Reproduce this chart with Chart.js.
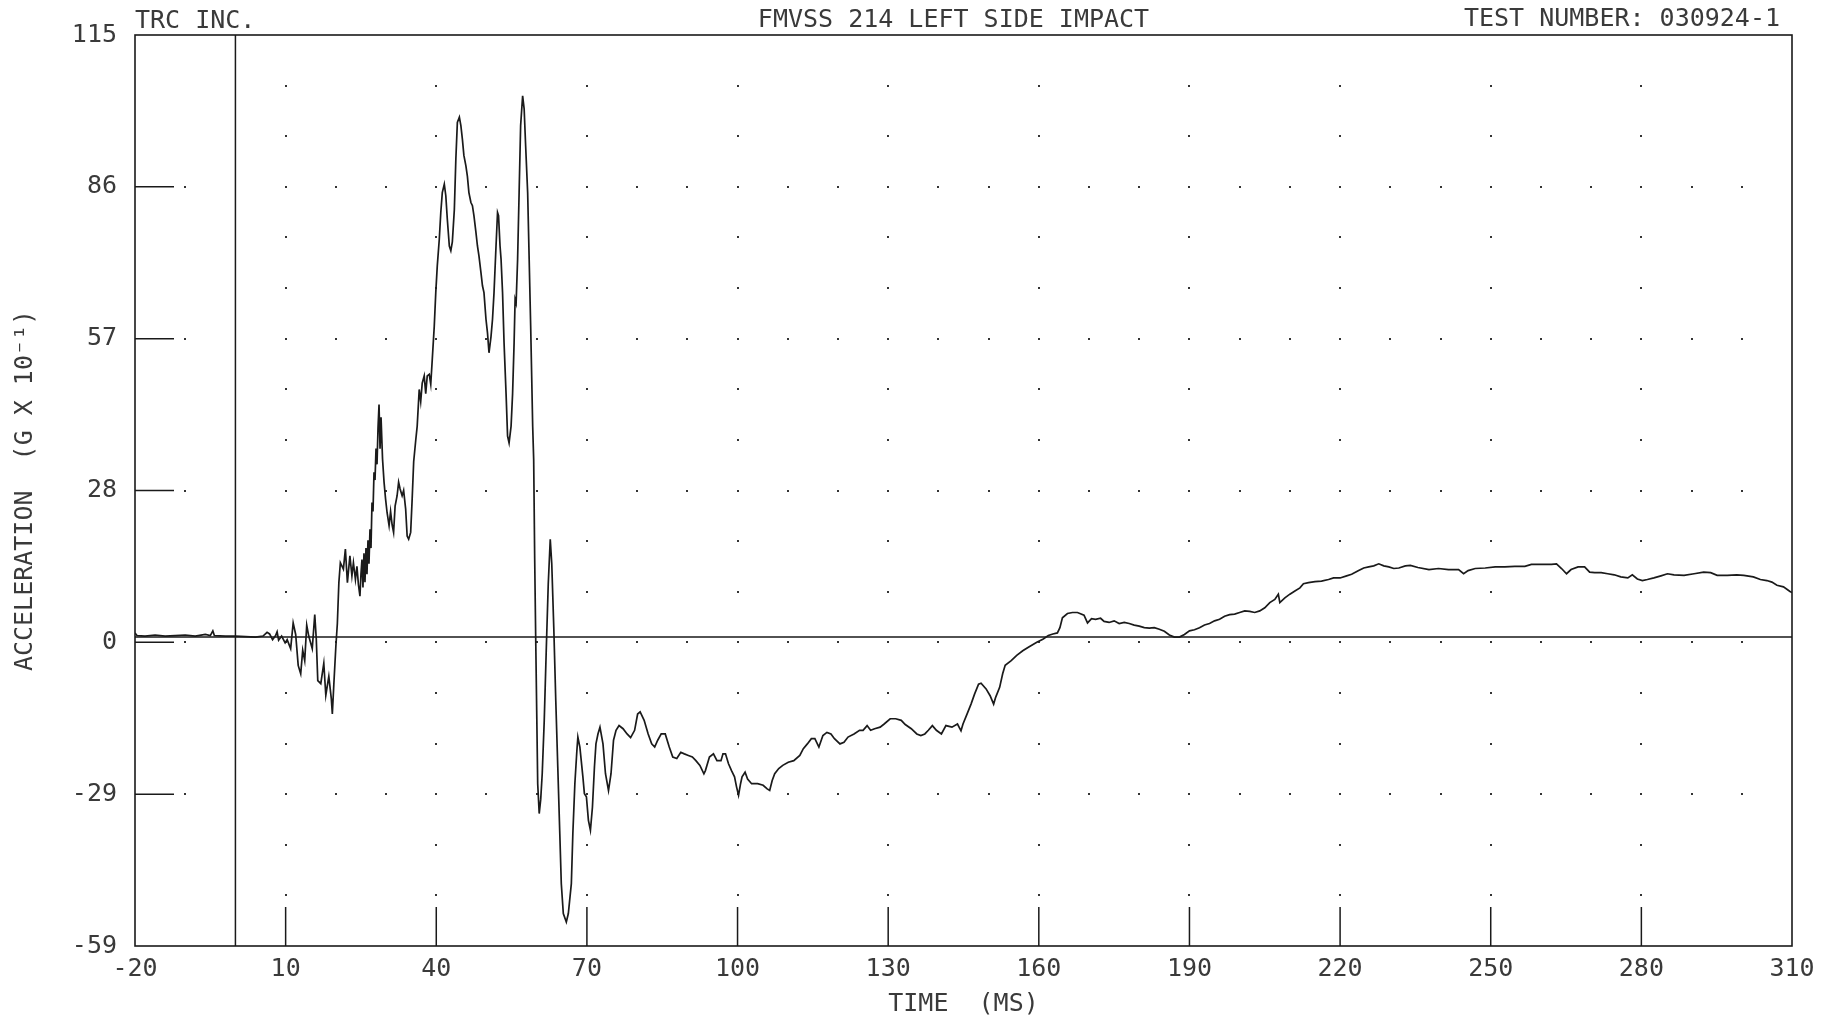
<!DOCTYPE html>
<html>
<head>
<meta charset="utf-8">
<script src="https://cdn.jsdelivr.net/npm/chart.js@4/dist/chart.umd.min.js"></script>
<style>
  html, body { margin: 0; padding: 0; background: #fff; }
  #wrap { width: 1843px; height: 1019px; position: relative; }
</style>
</head>
<body>
<div id="wrap"><canvas id="c"></canvas></div>
<script>
// ---- DATA ----
const timeMs = [
  -20, -19.6, -18, -16, -14, -12, -10, -8, -6, -5,
  -4.5, -4.2, -2, 0, 2, 4, 5.5, 6.3, 6.8, 7.4,
  8.0, 8.3, 8.6, 9.2, 9.9, 10.3, 11.0, 11.5, 12.0, 12.5,
  13.0, 13.4, 13.8, 14.2, 14.6, 15.3, 15.8, 16.1, 16.4, 17.0,
  17.6, 18.0, 18.6, 19.1, 19.3, 19.6, 20.0, 20.3, 20.6, 20.9,
  21.5, 21.9, 22.3, 22.8, 23.2, 23.5, 23.9, 24.2, 24.5, 24.8,
  25.0, 25.2, 25.4, 25.6, 25.8, 26.0, 26.2, 26.4, 26.6, 26.8,
  27.0, 27.2, 27.4, 27.6, 27.8, 28.0, 28.2, 28.4, 28.6, 28.8,
  29.0, 29.3, 29.6, 29.9, 30.2, 30.6, 30.9, 31.2, 31.5, 31.8,
  32.2, 32.5, 32.8, 33.2, 33.5, 33.9, 34.2, 34.5, 34.9, 35.2,
  35.5, 35.9, 36.2, 36.6, 36.9, 37.2, 37.6, 37.9, 38.2, 38.6,
  38.9, 39.2, 39.6, 39.9, 40.2, 40.6, 40.9, 41.2, 41.6, 41.9,
  42.2, 42.6, 42.9, 43.2, 43.6, 43.9, 44.2, 44.6, 44.9, 45.2,
  45.5, 45.9, 46.2, 46.5, 46.9, 47.2, 47.5, 47.9, 48.2, 48.5,
  48.9, 49.2, 49.5, 49.9, 50.2, 50.5, 50.9, 51.2, 51.5, 51.9,
  52.2, 52.4, 52.7, 52.9, 53.2, 53.5, 53.9, 54.2, 54.5, 54.9,
  55.2, 55.5, 55.7, 55.9, 56.2, 56.5, 56.8, 57.2, 57.5, 57.8,
  58.2, 58.5, 58.8, 59.0, 59.2, 59.4, 59.6, 59.8, 60.0, 60.2,
  60.5, 60.8, 61.1, 61.5, 61.9, 62.3, 62.7, 63.0, 63.4, 63.8,
  64.2, 64.6, 64.9, 65.3, 65.9, 66.3, 66.9, 67.2, 67.6, 68.0,
  68.2, 68.6, 69.2, 69.5, 69.9, 70.3, 70.7, 71.1, 71.5, 71.8,
  72.2, 72.6, 73.2, 73.7, 74.3, 74.8, 75.3, 75.8, 76.4, 77.2,
  78.0, 78.7, 79.5, 80.1, 80.6, 81.4, 82.2, 82.9, 83.5, 84.1,
  84.8, 85.6, 86.4, 87.1, 87.9, 88.7, 89.4, 90.2, 91.0, 91.7,
  92.5, 93.3, 93.6, 94.4, 95.2, 95.9, 96.7, 97.1, 97.6, 98.2,
  98.8, 99.4, 99.8, 100.2, 100.6, 100.9, 101.5, 102.0, 102.8, 104.0,
  105.1, 105.9, 106.4, 106.9, 107.4, 108.2, 109.0, 110.1, 111.2, 112.4,
  113.1, 113.9, 114.7, 115.4, 116.2, 117.0, 117.8, 118.6, 119.3, 120.4,
  121.2, 122.0, 123.2, 124.3, 125.0, 125.8, 126.5, 127.3, 128.4, 129.2,
  130.4, 131.5, 132.6, 133.4, 134.6, 135.7, 136.5, 137.3, 138.0, 138.8,
  139.6, 140.6, 141.5, 142.7, 143.8, 144.5, 144.9, 145.7, 146.5, 147.2,
  148.0, 148.5, 149.5, 150.3, 151.0, 151.4, 152.2, 152.8, 153.3, 154.5,
  155.6, 156.8, 158.0, 159.6, 160.8, 161.9, 162.8, 163.7, 164.2, 164.7,
  165.7, 166.7, 167.7, 169.0, 169.7, 170.5, 171.3, 172.3, 173.0, 174.0,
  175.0, 176.0, 177.0, 178.0, 179.0, 180.0, 181.0, 182.0, 183.0, 184.0,
  185.0, 186.0, 187.0, 188.0, 189.0, 190.0, 191.0, 192.0, 193.0, 194.0,
  195.0, 196.0, 197.0, 198.0, 199.0, 200.0, 201.0, 202.0, 203.0, 204.0,
  205.0, 206.0, 207.0, 207.7, 208.0, 209.0, 210.0, 211.0, 212.0, 212.7,
  213.7, 215.0, 216.3, 217.7, 218.7, 220.0, 221.3, 222.3, 223.7, 224.7,
  225.7, 226.7, 227.7, 228.7, 229.7, 230.7, 231.7, 233.0, 234.0, 235.5,
  237.7, 239.6, 241.6, 243.6, 244.6, 245.5, 246.9, 248.9, 250.9, 252.8,
  254.8, 256.8, 258.1, 259.4, 260.8, 262.1, 263.1, 264.1, 265.1, 266.0,
  267.4, 268.7, 269.7, 270.7, 272.0, 273.3, 274.6, 275.9, 277.3, 278.2,
  279.2, 280.2, 281.2, 282.5, 283.9, 285.2, 286.5, 288.5, 290.5, 292.4,
  293.8, 295.1, 297.1, 299.0, 300.4, 302.3, 303.7, 305.0, 306.0, 307.0,
  308.3, 309.6, 310.0
];
const accelG10 = [
  0.8, 0.3, 0.2, 0.4, 0.2, 0.3, 0.4, 0.2, 0.5, 0.3,
  1.2, 0.3, 0.2, 0.2, 0.1, 0.0, 0.2, 0.9, 0.6, -0.5,
  0.3, 1.0, -0.6, 0.2, -1.1, -0.5, -2.2, 2.7, 0.5, -5.4,
  -7.0, -2.5, -4.5, 2.3, 0.2, -2.2, 4.3, -0.3, -8.3, -8.9,
  -5.0, -11.1, -7.5, -11.8, -14.7, -9.0, -1.8, 2.6, 10.4, 14.2,
  13.0, 16.8, 10.4, 15.5, 11.7, 14.2, 11.0, 13.5, 10.0, 7.8,
  12.0, 14.8, 9.5, 16.0, 10.5, 17.0, 12.0, 18.5, 14.0, 20.6,
  17.0, 25.7, 24.0, 31.5, 30.0, 36.0, 33.0, 40.0, 44.4, 36.0,
  42.0, 34.0, 29.6, 26.4, 23.8, 21.3, 24.0, 21.5, 20.0, 25.0,
  27.0, 29.6, 28.3, 27.0, 28.0, 24.5, 19.3, 18.7, 20.0, 26.4,
  33.5, 37.5, 40.3, 47.3, 45.0, 48.5, 49.9, 46.5, 49.9, 50.2,
  48.3, 53.0, 59.4, 65.8, 70.9, 76.0, 81.1, 84.9, 86.5, 84.3,
  79.8, 74.7, 73.8, 75.5, 81.7, 91.3, 98.3, 99.3, 97.7, 95.1,
  92.0, 90.0, 88.0, 84.9, 83.0, 82.4, 80.5, 77.3, 74.7, 72.8,
  69.6, 67.1, 65.8, 60.7, 58.1, 54.3, 57.4, 60.7, 65.8, 74.7,
  81.1, 80.5, 74.7, 72.2, 65.8, 56.2, 46.5, 38.4, 37.1, 40.3,
  46.5, 56.2, 64.5, 63.8, 72.2, 84.9, 97.7, 103.4, 100.9, 93.8,
  84.9, 72.2, 59.4, 49.9, 40.3, 33.9, 15.0, 0.0, -14.0, -28.0,
  -33.7, -31.0, -26.1, -16.0, -2.6, 10.1, 18.7, 14.0, 1.9, -12.1,
  -24.8, -37.5, -47.1, -52.8, -54.4, -52.8, -47.1, -37.5, -28.0, -21.7,
  -19.1, -21.0, -26.7, -29.9, -30.5, -35.0, -36.9, -32.5, -24.8, -20.4,
  -18.5, -17.2, -20.4, -26.1, -29.3, -26.1, -19.7, -17.8, -16.9, -17.5,
  -18.5, -19.2, -17.8, -14.7, -14.3, -15.9, -18.5, -20.4, -21.0, -19.7,
  -18.5, -18.5, -21.0, -22.9, -23.2, -22.0, -22.3, -22.6, -22.9, -23.6,
  -24.5, -26.1, -25.5, -22.9, -22.3, -23.6, -23.6, -22.3, -22.3, -24.2,
  -25.5, -26.7, -28.6, -30.2, -28.0, -26.7, -25.8, -27.1, -28.0, -28.0,
  -28.3, -29.0, -29.3, -27.4, -26.1, -25.1, -24.5, -23.9, -23.6, -22.6,
  -21.3, -20.4, -19.4, -19.4, -21.0, -18.8, -18.2, -18.5, -19.4, -20.4,
  -20.1, -19.1, -18.5, -17.8, -17.8, -16.9, -17.8, -17.5, -17.2, -16.6,
  -15.6, -15.6, -15.9, -16.7, -17.5, -18.5, -18.8, -18.5, -17.8, -16.9,
  -17.8, -18.5, -16.9, -17.2, -16.6, -17.9, -16.6, -14.7, -12.8, -10.9,
  -9.0, -8.8, -9.9, -11.2, -12.8, -11.5, -9.6, -7.0, -5.4, -4.5,
  -3.5, -2.6, -1.9, -1.0, -0.4, 0.3, 0.6, 0.8, 1.8, 3.7,
  4.5, 4.7, 4.7, 4.2, 2.7, 3.5, 3.4, 3.6, 3.0, 2.8,
  3.1, 2.6, 2.8, 2.6, 2.3, 2.1, 1.8, 1.7, 1.8, 1.5,
  1.1, 0.4, 0.0, 0.0, 0.5, 1.2, 1.4, 1.8, 2.3, 2.6,
  3.1, 3.4, 4.0, 4.3, 4.4, 4.7, 5.0, 4.9, 4.7, 5.0,
  5.6, 6.6, 7.2, 8.2, 6.6, 7.5, 8.2, 8.8, 9.4, 10.2,
  10.4, 10.6, 10.7, 11.0, 11.3, 11.3, 11.7, 12.0, 12.7, 13.2,
  13.4, 13.6, 14.0, 13.6, 13.4, 13.1, 13.2, 13.6, 13.7, 13.3,
  12.9, 13.1, 12.9, 12.9, 12.1, 12.7, 13.1, 13.2, 13.4, 13.4,
  13.5, 13.5, 13.9, 13.9, 13.9, 13.9, 14.0, 13.1, 12.1, 12.9,
  13.4, 13.4, 12.4, 12.3, 12.3, 12.1, 11.9, 11.5, 11.3, 11.9,
  11.1, 10.8, 11.0, 11.3, 11.7, 12.1, 11.9, 11.8, 12.1, 12.4,
  12.3, 11.8, 11.8, 11.9, 11.8, 11.5, 11.0, 10.8, 10.5, 9.9,
  9.6, 8.7, 8.5
];
const xTickLabels = ['-20', '10', '40', '70', '100', '130', '160', '190', '220', '250', '280', '310'];
const yTickLabels = ['-59', '-29', '0', '28', '57', '86', '115'];
const xRange = [-20, 310];
const xStep = 30;
const yRange = [-59, 115];
const yStep = 29;
const headerLeft = 'TRC INC.';
const headerCenter = 'FMVSS 214 LEFT SIDE IMPACT';
const headerRight = 'TEST NUMBER: 030924-1';
const xTitle = 'TIME  (MS)';
const yTitle = 'ACCELERATION  (G X 10\u207B\u00B9)';

// ---- STYLE ----
const FONT = '"DejaVu Sans Mono", "Liberation Mono", monospace';
const INK = '#1a1a1a';
const TEXT = '#3a3a3a';

const plotterDecor = {
  id: 'plotterDecor',
  beforeDatasetsDraw(chart) {
    const { ctx, chartArea: a, scales: { x, y } } = chart;
    ctx.save();
    // dot grid
    ctx.fillStyle = '#333';
    const yt = y.ticks.map(t => t.value).slice(1, -1);
    const xt = x.ticks.map(t => t.value).slice(1, -1);
    yt.forEach(v => {
      const py = y.getPixelForValue(v);
      for (let xv = xRange[0] + 10; xv < xRange[1] - 0.5; xv += 10) {
        if (Math.abs(xv) < 0.01) continue;
        const px = x.getPixelForValue(xv);
        ctx.fillRect(Math.round(px) - 1, Math.round(py) - 1, 2, 2);
      }
    });
    xt.forEach(v => {
      const px = x.getPixelForValue(v);
      for (let k = 1; k < 18; k++) {
        const py = y.getPixelForValue(yRange[0] + k * yStep / 3);
        ctx.fillRect(Math.round(px) - 1, Math.round(py) - 1, 2, 2);
      }
    });
    // inward tick marks
    ctx.strokeStyle = INK;
    ctx.lineWidth = 1.5;
    ctx.beginPath();
    xt.forEach(v => {
      const px = x.getPixelForValue(v);
      ctx.moveTo(px, a.bottom);
      ctx.lineTo(px, a.bottom - 39);
    });
    yt.forEach(v => {
      const py = y.getPixelForValue(v);
      ctx.moveTo(a.left, py);
      ctx.lineTo(a.left + 39, py);
    });
    ctx.stroke();
    // zero reference lines
    const zx = x.getPixelForValue(0);
    const zy = y.getPixelForValue(0);
    ctx.beginPath();
    ctx.moveTo(zx, a.top);
    ctx.lineTo(zx, a.bottom);
    ctx.moveTo(a.left, zy);
    ctx.lineTo(a.right, zy);
    ctx.stroke();
    ctx.restore();
  },
  afterDraw(chart) {
    const { ctx, chartArea: a } = chart;
    ctx.save();
    ctx.strokeStyle = INK;
    ctx.lineWidth = 1.6;
    ctx.strokeRect(a.left, a.top, a.right - a.left, a.bottom - a.top);
    ctx.fillStyle = TEXT;
    ctx.font = '25px ' + FONT;
    ctx.textBaseline = 'alphabetic';
    ctx.textAlign = 'left';
    ctx.fillText(headerLeft, a.left, 28);
    ctx.textAlign = 'center';
    ctx.fillText(headerCenter, (a.left + a.right) / 2 - 10, 27);
    ctx.textAlign = 'right';
    ctx.fillText(headerRight, a.right - 12, 26);
    ctx.restore();
  }
};

const tickFont = { family: FONT, size: 25 };

new Chart(document.getElementById('c'), {
  type: 'line',
  data: {
    datasets: [{
      data: timeMs.map((t, i) => ({ x: t, y: accelG10[i] })),
      borderColor: INK,
      borderWidth: 1.7,
      pointRadius: 0,
      tension: 0,
      fill: false
    }]
  },
  options: {
    responsive: true,
    maintainAspectRatio: false,
    animation: false,
    parsing: false,
    layout: { padding: { left: 0, top: 35, right: 51, bottom: 0 } },
    plugins: { legend: { display: false }, tooltip: { enabled: false } },
    scales: {
      x: {
        type: 'linear',
        min: xRange[0], max: xRange[1],
        grid: { display: false, drawTicks: false },
        border: { display: false },
        ticks: {
          stepSize: xStep, autoSkip: false, maxRotation: 0, minRotation: 0,
          padding: 8, color: TEXT, font: tickFont,
          callback: (v, i) => xTickLabels[i]
        },
        title: { display: true, text: xTitle, color: TEXT, font: { family: FONT, size: 25 }, padding: { top: 0, bottom: 0 } },
        afterFit: s => { s.height = 73; }
      },
      y: {
        type: 'linear',
        min: yRange[0], max: yRange[1],
        grid: { display: false, drawTicks: false },
        border: { display: false },
        ticks: {
          stepSize: yStep, autoSkip: false, padding: 18, color: TEXT, font: tickFont,
          callback: (v, i) => yTickLabels[i]
        },
        title: { display: true, text: yTitle, color: TEXT, font: { family: FONT, size: 25 }, padding: { top: 10, bottom: 0 } },
        afterFit: s => { s.width = 135; }
      }
    }
  },
  plugins: [plotterDecor]
});
</script>
</body>
</html>
